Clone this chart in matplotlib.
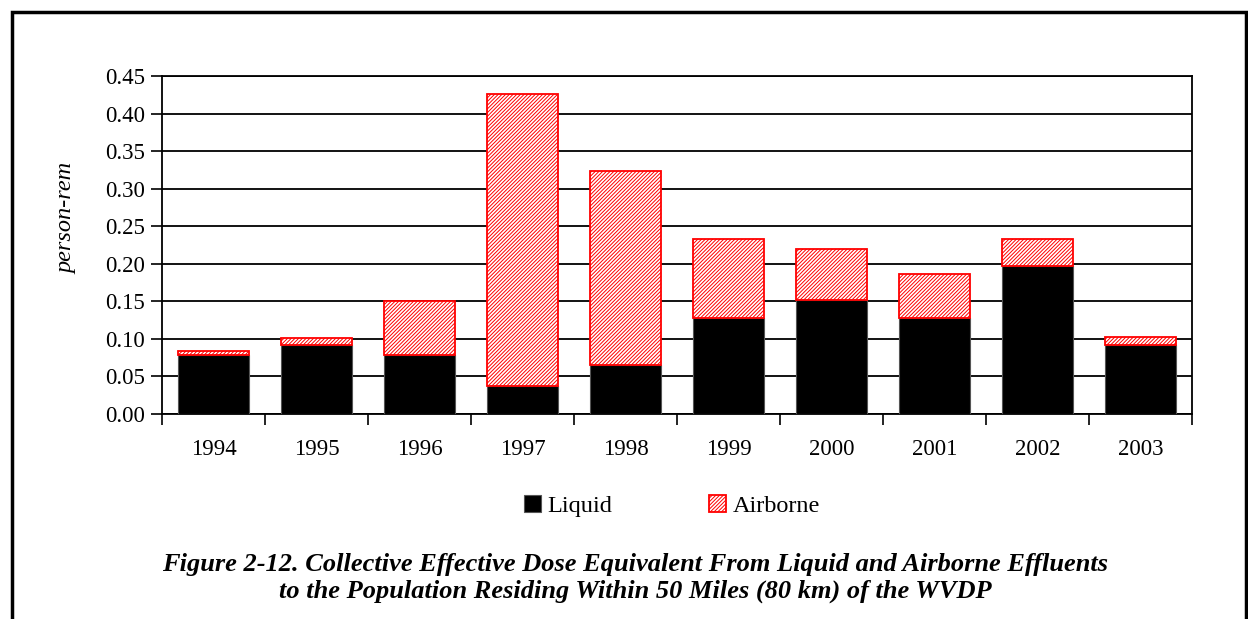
import matplotlib
matplotlib.use("Agg")
import matplotlib.pyplot as plt
import numpy as np
from matplotlib.patches import Rectangle

years = ["1994", "1995", "1996", "1997", "1998", "1999", "2000", "2001", "2002", "2003"]
liquid = [0.078, 0.092, 0.078, 0.037, 0.065, 0.128, 0.152, 0.128, 0.197, 0.092]
airborne = [0.006, 0.009, 0.072, 0.389, 0.259, 0.105, 0.068, 0.059, 0.036, 0.011]
yticks = [0.00, 0.05, 0.10, 0.15, 0.20, 0.25, 0.30, 0.35, 0.40, 0.45]

plt.rcParams['font.family'] = ['Liberation Serif', 'DejaVu Serif']
plt.rcParams['hatch.linewidth'] = 0.7
plt.rcParams['hatch.color'] = 'red'

W, H = 1248, 619
fig = plt.figure(figsize=(W / 100, H / 100), dpi=100)
ax = fig.add_axes([162 / W, 1 - 414 / H, (1192 - 162) / W, (414 - 76) / H])

x = np.arange(len(years))
ax.bar(x, liquid, width=0.68, color='black', edgecolor='#555555', linewidth=0.8, label='Liquid', zorder=3)
ax.bar(x, airborne, bottom=liquid, width=0.68, color='white', edgecolor='red',
       hatch='/////////', linewidth=1.3, label='Airborne', zorder=3)

ax.set_xlim(-0.5, len(years) - 0.5)
ax.set_ylim(0, 0.45)
ax.set_yticks(yticks)
ax.set_yticklabels([f"{v:.2f}" for v in yticks], fontsize=16.5)
ax.set_xticks(x)
ax.set_xticklabels(years, fontsize=16.5)
ax.set_xticks(np.arange(-0.5, len(years)), minor=True)
ax.tick_params(axis='x', which='major', length=0, pad=18)
ax.tick_params(axis='x', which='minor', length=8, width=1.2, direction='out')
ax.tick_params(axis='y', length=8, width=1.2, direction='out', pad=4)
ax.yaxis.grid(True, color='black', linewidth=1.3, zorder=0)
ax.set_axisbelow(True)
for s in ax.spines.values():
    s.set_linewidth(1.3)

fig.text(67 / W, 1 - 218 / H, 'person-rem', rotation=90, ha='center', va='center',
         fontsize=17.5, style='italic')

leg = fig.legend(loc='center', bbox_to_anchor=(672 / W, 1 - 506 / H), ncol=2, frameon=False,
                 fontsize=17.5, handlelength=0.7, handleheight=0.7, handletextpad=0.25,
                 columnspacing=4.0)

fig.text(635 / W, 1 - 565 / H,
         'Figure 2-12. Collective Effective Dose Equivalent From Liquid and Airborne Effluents',
         ha='center', va='center', fontsize=19, style='italic', weight='bold')
fig.text(635 / W, 1 - 591 / H,
         'to the Population Residing Within 50 Miles (80 km) of the WVDP',
         ha='center', va='center', fontsize=19, style='italic', weight='bold')

border = Rectangle((12 / W, -0.05), (1246 - 12) / W, 1 - 12 / H + 0.05,
                   transform=fig.transFigure, fill=False, edgecolor='black', linewidth=2.5)
fig.add_artist(border)

fig.savefig('out.png', dpi=100)
